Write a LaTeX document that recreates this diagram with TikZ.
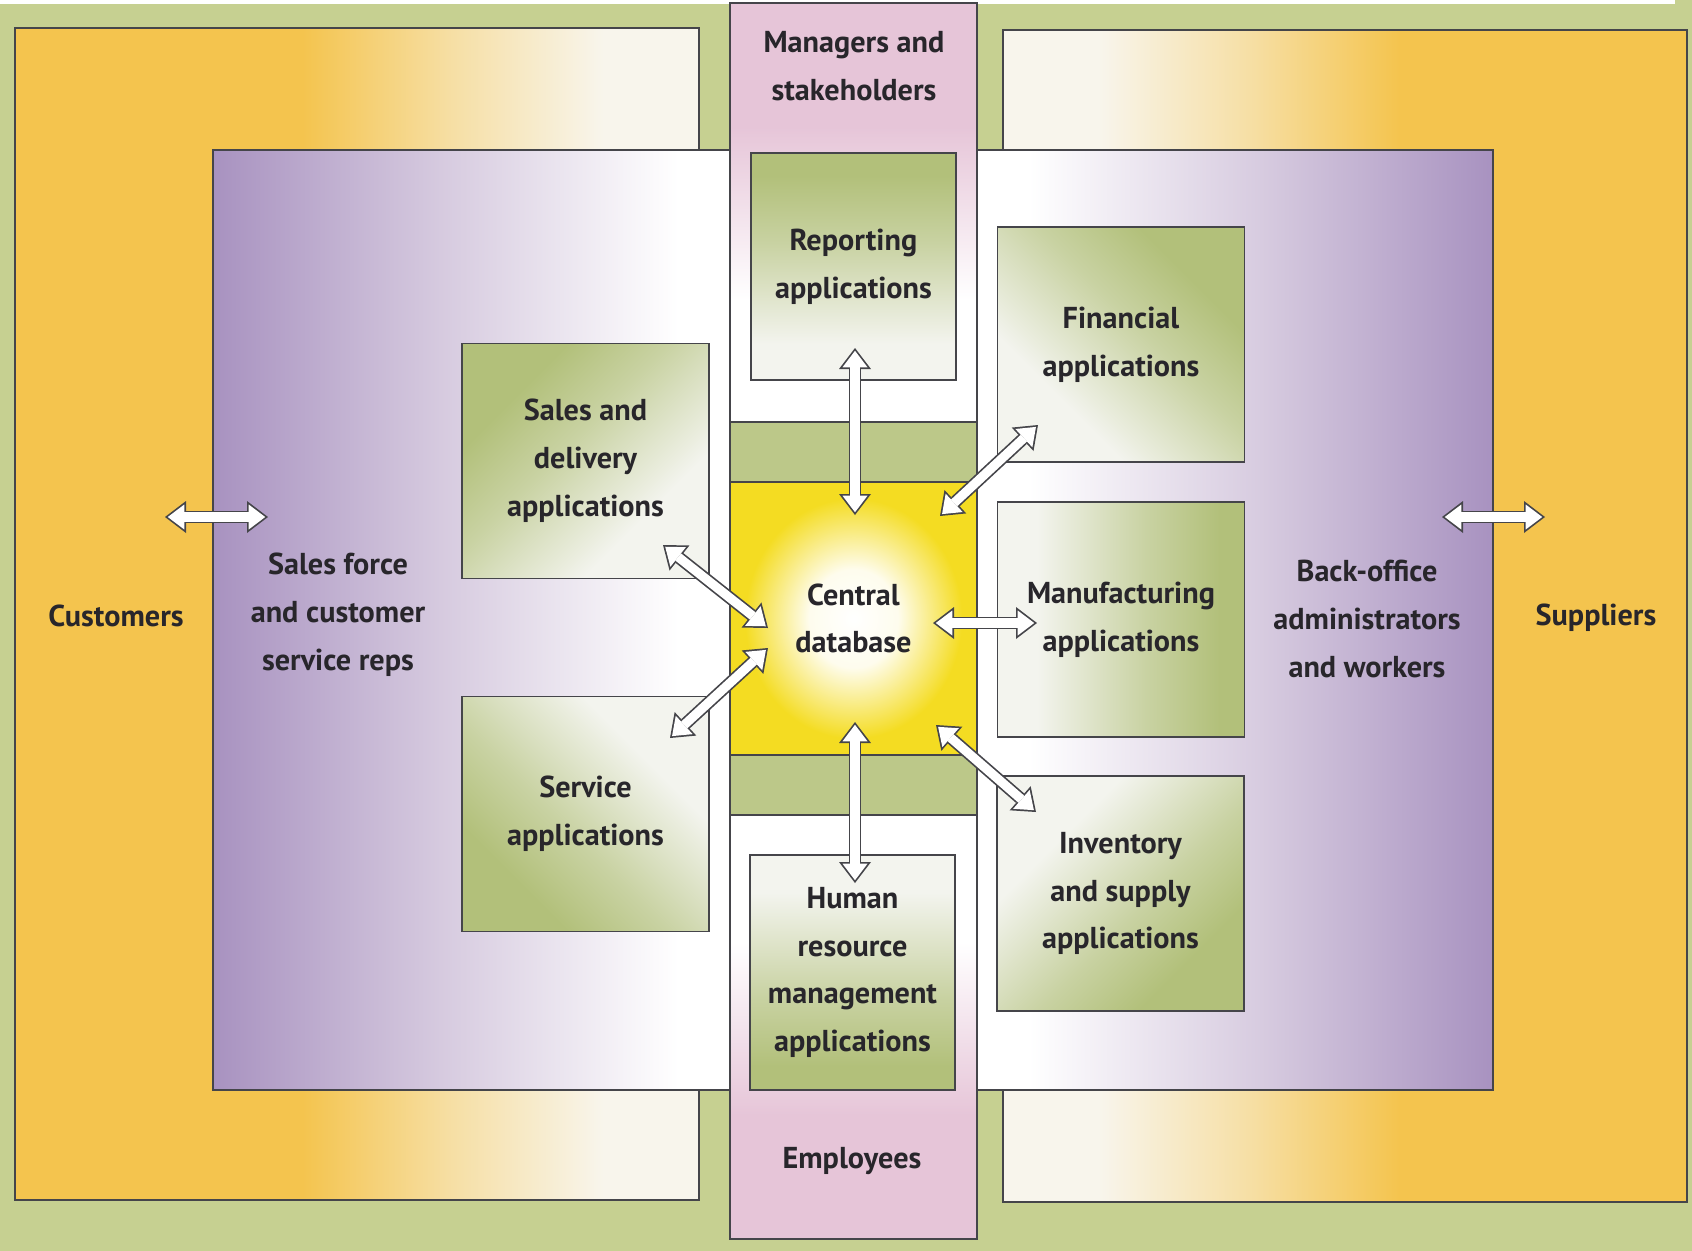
\documentclass[tikz,border=0pt]{standalone}
\usepackage{fontspec}
\setmainfont{PT Sans}
\usetikzlibrary{arrows.meta}

\definecolor{bggreen}{HTML}{C6D091}
\definecolor{yel}{HTML}{F4C44E}
\definecolor{cream}{HTML}{F8F5EC}
\definecolor{purp}{HTML}{A892C0}
\definecolor{lav}{HTML}{D6CADF}
\definecolor{pinkc}{HTML}{E6C5D8}
\definecolor{appg}{HTML}{B2C07A}
\definecolor{appw}{HTML}{F3F4EE}
\definecolor{bandg}{HTML}{BCC889}
\definecolor{dby}{HTML}{F4DC22}
\definecolor{txt}{HTML}{28262B}
\definecolor{edge}{HTML}{45454A}

\pgfdeclarehorizontalshading{yelfade}{100bp}{color(0bp)=(yel); color(46bp)=(yel); color(57bp)=(yel!45!cream); color(68bp)=(cream); color(100bp)=(cream)}
\pgfdeclarehorizontalshading{purpfade}{100bp}{color(0bp)=(purp); color(25bp)=(purp); color(47bp)=(lav); color(70bp)=(white); color(100bp)=(white)}
\pgfdeclareverticalshading{colfade}{100bp}{color(0bp)=(pinkc); color(30bp)=(pinkc); color(37bp)=(white); color(63bp)=(white); color(70bp)=(pinkc); color(100bp)=(pinkc)}
\pgfdeclareverticalshading{appfade}{100bp}{color(0bp)=(appw); color(33bp)=(appw); color(55bp)=(appg!65!appw); color(70bp)=(appg); color(100bp)=(appg)}
\pgfdeclareradialshading{dbglow}{\pgfpoint{0bp}{0bp}}{color(0bp)=(white); color(9bp)=(white!92!dby); color(22bp)=(dby); color(50bp)=(dby)}

\newcommand{\boxfont}{\fontsize{8.6pt}{13.6pt}\selectfont\bfseries}
\newcommand{\fatlink}[2]{\draw[fatout] (#1) -- (#2); \draw[fatin] (#1) -- (#2);}

\begin{document}
\begin{tikzpicture}[x=0.1mm,y=-0.1mm,font=\boxfont,
  boxline/.style={draw=edge,line width=0.45pt},
  app/.style={boxline,shade,shading=appfade,minimum width=24.7mm,minimum height=23.5mm,align=center,text=txt},
  colapp/.style={app,minimum width=20.5mm},
  lbl/.style={align=center,text=txt},
  fatout/.style={draw=edge,line width=1.25mm,{Triangle[width=3.2mm,length=2.1mm,line width=0pt]}-{Triangle[width=3.2mm,length=2.1mm,line width=0pt]}},
  fatin/.style={draw=white,line width=0.91mm,shorten <=0.28mm,shorten >=0.28mm,{Triangle[width=2.5mm,length=1.65mm,line width=0pt]}-{Triangle[width=2.5mm,length=1.65mm,line width=0pt]}}]
\useasboundingbox (0,0) rectangle (1692,1251);
\fill[bggreen] (0,0) rectangle (1692,1251);
\fill[white] (0,0) rectangle (1675,4);

% outer frames and inner frames
\shadedraw[boxline,shading=yelfade] (15,28) rectangle (699,1200);
\shadedraw[boxline,shading=yelfade,shading angle=180] (1003,30) rectangle (1687,1202);
\shadedraw[boxline,shading=purpfade] (213,150) rectangle (730,1090);
\shadedraw[boxline,shading=purpfade,shading angle=180] (977,150) rectangle (1493,1090);

% middle column
\shadedraw[boxline,shading=colfade] (730,3) rectangle (977,1239);
\filldraw[boxline,fill=bandg] (730,422) rectangle (977,482);
\filldraw[boxline,fill=bandg] (730,755) rectangle (977,815);
\node[boxline,shade,shading=dbglow,minimum width=24.7mm,minimum height=27.3mm,lbl] (db) at (853.5,618.5) {Central\\database};

\node[colapp,minimum height=22.7mm,shading angle=0] (rep) at (853.5,266.5) {Reporting\\applications};
\node[colapp,shading angle=180] (hr) at (852.5,972.5) {Human\\resource\\management\\applications};
\node[app,shading angle=45] (sales) at (585.5,461) {Sales and\\delivery\\applications};
\node[app,shading angle=135] (serv) at (585.5,814) {Service\\applications};
\node[app,shading angle=-45] (fin) at (1121,344.5) {Financial\\applications};
\node[app,shading angle=-90] (manu) at (1121,619.5) {Manufacturing\\applications};
\node[app,shading angle=-135] (inv) at (1120.5,893.5) {Inventory\\and supply\\applications};

\node[lbl] (mgr) at (854,66) {Managers and\\stakeholders};
\node[lbl] (emp) at (852,1161) {Employees};
\node[lbl] (cust) at (116,616) {Customers};
\node[lbl] (salesforce) at (338,615) {Sales force\\and customer\\service reps};
\node[lbl] (backoffice) at (1367,619) {Back-office\\administrators\\and workers};
\node[lbl] (suppl) at (1596,618) {Suppliers};

% arrow ends
\coordinate (cust-a) at (165,517);
\coordinate (cust-b) at (268,517);
\coordinate (suppl-a) at (1442,517);
\coordinate (suppl-b) at (1545,517);
\coordinate (rep-a) at (855,348);
\coordinate (rep-b) at (855,515);
\coordinate (fin-a) at (1038,425);
\coordinate (fin-b) at (940,516);
\coordinate (manu-a) at (1037,623);
\coordinate (manu-b) at (933,623);
\coordinate (inv-a) at (1036,812);
\coordinate (inv-b) at (936,725);
\coordinate (hr-a) at (855,883);
\coordinate (hr-b) at (855,722);
\coordinate (sales-a) at (663,545);
\coordinate (sales-b) at (768,628);
\coordinate (serv-a) at (670,738);
\coordinate (serv-b) at (768,648);

\fatlink{cust-a}{cust-b}
\fatlink{suppl-a}{suppl-b}
\fatlink{rep-a}{rep-b}
\fatlink{fin-a}{fin-b}
\fatlink{manu-a}{manu-b}
\fatlink{inv-a}{inv-b}
\fatlink{hr-a}{hr-b}
\fatlink{sales-a}{sales-b}
\fatlink{serv-a}{serv-b}
\end{tikzpicture}
\end{document}
